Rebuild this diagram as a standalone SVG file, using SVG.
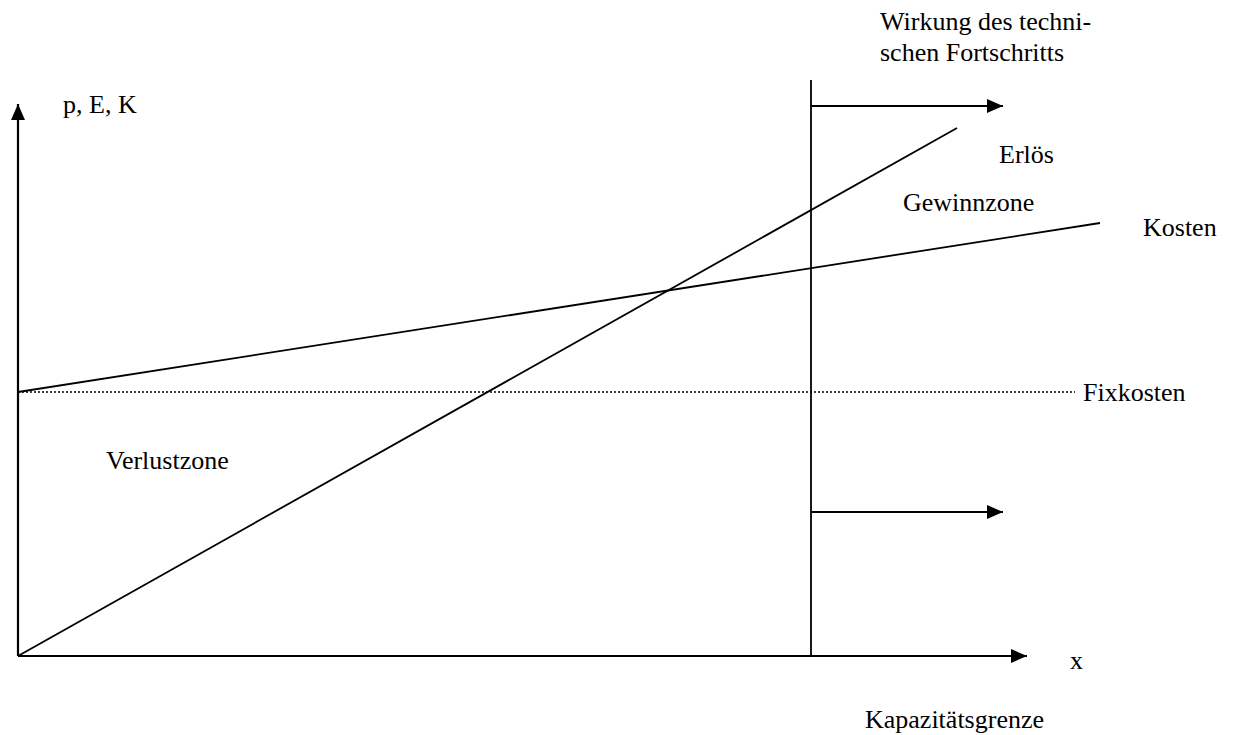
<svg xmlns="http://www.w3.org/2000/svg" width="1235" height="735" viewBox="0 0 1235 735">
<style>
text{font-family:"Liberation Serif","Times New Roman",serif;font-size:26px;fill:#000}
.ax{stroke:#000;stroke-width:2.2;fill:none}
.ln{stroke:#000;stroke-width:1.8;fill:none}
.dot{stroke:#000;stroke-width:1.3;stroke-dasharray:2 2;fill:none}
</style>
<defs>
<marker id="ah" markerUnits="userSpaceOnUse" markerWidth="16" markerHeight="14" refX="16" refY="7" orient="auto"><path d="M0,0 L16,7 L0,14 Z" fill="#000"/></marker>
</defs>
<rect width="1235" height="735" fill="#fff"/>
<g id="connectors">
<line class="ax" x1="18" y1="656" x2="18" y2="104" marker-end="url(#ah)"/>
<line class="ax" x1="18" y1="656" x2="1027" y2="656" marker-end="url(#ah)"/>
<line class="ln" x1="811" y1="80" x2="811" y2="656"/>
<line class="ax" x1="811" y1="106" x2="1003" y2="106" marker-end="url(#ah)"/>
<line class="ax" x1="811" y1="512" x2="1003" y2="512" marker-end="url(#ah)"/>
<line class="ln" x1="18" y1="656" x2="957" y2="128"/>
<line class="ln" x1="18" y1="392" x2="1100" y2="223"/>
<line class="dot" x1="18" y1="392" x2="1075" y2="392"/>
</g>
<g id="labels">
<text id="axis-y" x="63" y="113">p, E, K</text>
<text id="axis-x" x="1070" y="669">x</text>
<text id="tech" x="880" y="30">Wirkung des techni-</text>
<text id="tech2" x="880" y="61">schen Fortschritts</text>
<text id="erloes" x="999" y="163">Erlös</text>
<text id="gewinn" x="903" y="211">Gewinnzone</text>
<text id="kosten" x="1143" y="236">Kosten</text>
<text id="fix" x="1083" y="401">Fixkosten</text>
<text id="verlust" x="106" y="469">Verlustzone</text>
<text id="kap" x="865" y="728">Kapazitätsgrenze</text>
</g>
</svg>
